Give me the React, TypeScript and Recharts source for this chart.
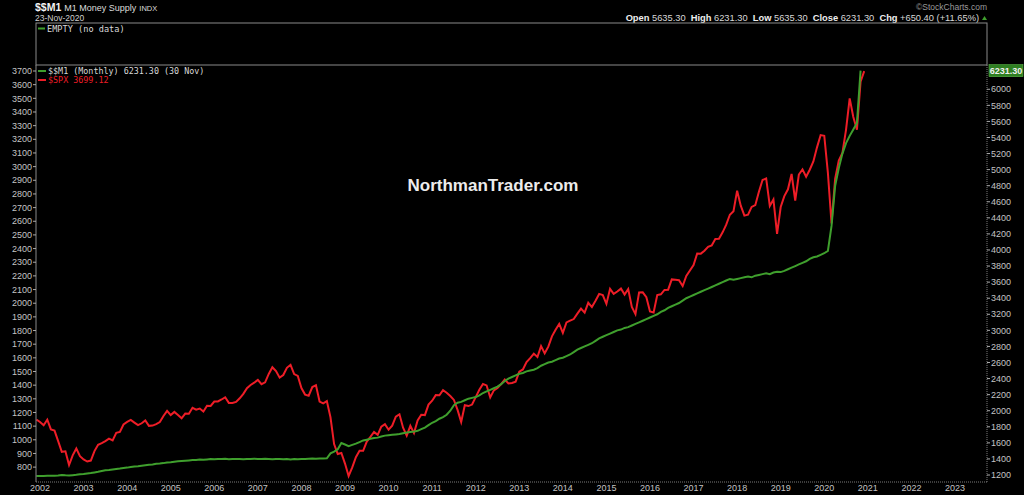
import { LineChart, Line, XAxis, YAxis, ReferenceLine } from 'recharts';

// monthly closes, Dec 2001 .. Dec 2020 (left axis)
const spx = [
  1148,
  1130, 1107, 1147, 1076, 1067, 990, 912, 916, 815, 886, 936, 880,
  856, 841, 848, 917, 964, 975, 990, 1008, 996, 1051, 1058, 1112,
  1131, 1145, 1126, 1107, 1121, 1141, 1102, 1104, 1115, 1130, 1174, 1212,
  1181, 1204, 1181, 1157, 1192, 1191, 1234, 1220, 1229, 1207, 1249, 1248,
  1280, 1281, 1295, 1311, 1270, 1270, 1277, 1304, 1336, 1378, 1401, 1418,
  1438, 1407, 1421, 1482, 1531, 1503, 1455, 1474, 1527, 1549, 1481, 1468,
  1379, 1331, 1323, 1386, 1400, 1280, 1267, 1283, 1165, 969, 896, 903,
  826, 735, 798, 873, 919, 919, 987, 1021, 1057, 1036, 1096, 1115,
  1074, 1104, 1169, 1187, 1089, 1031, 1102, 1049, 1141, 1183, 1181, 1258,
  1286, 1327, 1326, 1364, 1345, 1321, 1292, 1219, 1131, 1253, 1247, 1258,
  1312, 1366, 1408, 1398, 1310, 1362, 1379, 1407, 1441, 1412, 1416, 1426,
  1498, 1515, 1569, 1598, 1631, 1606, 1686, 1633, 1682, 1757, 1806, 1848,
  1783, 1859, 1872, 1884, 1924, 1960, 1931, 2003, 1972, 2018, 2068, 2059,
  1995, 2105, 2068, 2086, 2107, 2063, 2104, 1972, 1920, 2079, 2080, 2044,
  1940, 1932, 2060, 2065, 2097, 2099, 2174, 2171, 2168, 2126, 2199, 2239,
  2279, 2364, 2363, 2384, 2412, 2423, 2470, 2472, 2519, 2575, 2648, 2674,
  2824, 2714, 2641, 2648, 2705, 2718, 2816, 2902, 2914, 2712, 2760, 2507,
  2704, 2784, 2834, 2946, 2752, 2942, 2980, 2926, 2977, 3038, 3141, 3231,
  3226, 2954, 2585, 2912, 3044, 3100, 3271, 3500, 3363, 3270, 3622, 3699.12,
];

// M1 money supply, Dec 2001 .. Nov 2020 (right axis)
const m1 = [
  1188,
  1188, 1189, 1190, 1191, 1192, 1194, 1200, 1196, 1194, 1198, 1202, 1210,
  1214, 1220, 1224, 1232, 1240, 1250, 1258, 1262, 1268, 1274, 1280, 1288,
  1292, 1300, 1306, 1310, 1316, 1322, 1328, 1332, 1340, 1342, 1348, 1356,
  1360, 1366, 1370, 1374, 1378, 1382, 1386, 1388, 1392, 1390, 1394, 1398,
  1396, 1400, 1398, 1402, 1396, 1400, 1398, 1400, 1396, 1398, 1400, 1402,
  1400, 1398, 1402, 1400, 1396, 1398, 1400, 1396, 1398, 1394, 1398, 1396,
  1398, 1400, 1402, 1404, 1402, 1404, 1406, 1408, 1470, 1490, 1520, 1598,
  1580, 1560, 1575, 1590, 1610, 1630, 1640, 1650, 1660, 1665, 1680, 1690,
  1695, 1700, 1705, 1710, 1720, 1730, 1735, 1740, 1750, 1770, 1790, 1820,
  1850, 1870, 1900, 1920, 1950, 2000, 2070, 2100, 2110, 2130, 2150, 2160,
  2170, 2190, 2220, 2240, 2260, 2280, 2300, 2330, 2370, 2400, 2420, 2440,
  2460, 2470, 2490, 2500, 2510, 2530, 2560, 2580, 2600, 2610, 2630, 2650,
  2660, 2680, 2700, 2730, 2760, 2780, 2800, 2820, 2840, 2870, 2900, 2920,
  2940, 2960, 2980, 3000, 3010, 3030, 3040, 3060, 3080, 3100, 3120, 3140,
  3160, 3180, 3200, 3230, 3250, 3280, 3300, 3320, 3340, 3370, 3400, 3420,
  3440, 3460, 3480, 3500, 3520, 3540, 3560, 3580, 3600, 3620, 3640, 3630,
  3640, 3650, 3660, 3670, 3660, 3680, 3690, 3700, 3710, 3700, 3720, 3730,
  3725, 3740, 3760, 3780, 3800, 3820, 3840, 3860, 3890, 3910, 3920, 3940,
  3960, 3990, 4300, 4800, 5020, 5200, 5330, 5420, 5500, 5580.9, 6231.3,
];

const yearTicks = [
  2002, 2003, 2004, 2005, 2006, 2007, 2008, 2009, 2010, 2011, 2012,
  2013, 2014, 2015, 2016, 2017, 2018, 2019, 2020, 2021, 2022, 2023,
];
const leftTicks = [
  800, 900, 1000, 1100, 1200, 1300, 1400, 1500, 1600, 1700, 1800, 1900, 2000, 2100, 2200,
  2300, 2400, 2500, 2600, 2700, 2800, 2900, 3000, 3100, 3200, 3300, 3400, 3500, 3600, 3700,
];
const rightTicks = [
  1200, 1400, 1600, 1800, 2000, 2200, 2400, 2600, 2800, 3000, 3200, 3400, 3600,
  3800, 4000, 4200, 4400, 4600, 4800, 5000, 5200, 5400, 5600, 5800, 6000,
];

const START = 2001 + 11 / 12;
const data = spx.map((v, i) => ({ t: START + i / 12, spx: v, m1: m1[i] }));

const RED = '#ee1d27';
const GREEN = '#3f9f2d';
const FRAME = '#8a8a8a';
const SANS = '"Liberation Sans", Arial, sans-serif';
const MONO = '"DejaVu Sans Mono", monospace';
const tickStyle = { fill: '#c4c4c4', fontSize: 9, fontFamily: SANS };

function LastBox(props: any) {
  const vb = props.viewBox || {};
  const x = vb.x + vb.width + 2;
  const y = vb.y;
  return (
    <g>
      <rect x={x} y={y - 6} width={34} height={12} fill="#2f7f22" stroke="#5cb848" strokeWidth={0.6} />
      <text x={x + 17} y={y + 3.2} textAnchor="middle" fill="#f0f0f0" fontSize={9} fontWeight="bold" fontFamily={SANS}>
        6231.30
      </text>
    </g>
  );
}

export default function App() {
  return (
    <div style={{ position: 'absolute', left: 0, top: 0, width: 1024, height: 495, background: '#000', overflow: 'hidden' }}>
      <LineChart width={1024} height={495} data={data} margin={{ top: 65, right: 0, bottom: 0, left: 0 }}>
        <XAxis
          dataKey="t"
          type="number"
          domain={[2001.908, 2023.735]}
          ticks={yearTicks}
          interval={0}
          allowDataOverflow
          height={13}
          tickSize={2}
          tickMargin={1}
          tickLine={false}
          axisLine={{ stroke: '#7a7a7a', strokeDasharray: '1 1' }}
          tick={tickStyle}
        />
        <YAxis
          yAxisId="left"
          orientation="left"
          domain={[691, 3744]}
          ticks={leftTicks}
          interval={0}
          allowDataOverflow
          width={36}
          tickSize={3}
          tickMargin={1}
          axisLine={{ stroke: FRAME }}
          tickLine={{ stroke: '#aaa' }}
          tick={tickStyle}
        />
        <YAxis
          yAxisId="right"
          orientation="right"
          domain={[1113, 6302]}
          ticks={rightTicks}
          interval={0}
          allowDataOverflow
          width={37}
          tickSize={3}
          tickMargin={1}
          axisLine={{ stroke: '#7a7a7a', strokeDasharray: '1 1' }}
          tickLine={{ stroke: '#aaa' }}
          tick={tickStyle}
        />
        <Line yAxisId="left" dataKey="spx" stroke={RED} strokeWidth={2} dot={false} isAnimationActive={false} />
        <Line yAxisId="right" dataKey="m1" stroke={GREEN} strokeWidth={2} dot={false} isAnimationActive={false} />
        <ReferenceLine yAxisId="right" y={6231.3} stroke="none" label={<LastBox />} />
      </LineChart>

      <svg width={1024} height={495} style={{ position: 'absolute', left: 0, top: 0, pointerEvents: 'none' }}>
        {/* header */}
        <text x={35} y={10.5} fontFamily={SANS} fill="#f2f2f2">
          <tspan fontSize={10.5} fontWeight="bold">$$M1</tspan>
          <tspan fontSize={9} fill="#dcdcdc" dx={3}>M1 Money Supply</tspan>
          <tspan fontSize={7.5} fill="#dcdcdc" dx={3}>INDX</tspan>
        </text>
        <text x={35} y={20.5} fontFamily={SANS} fontSize={8.5} fill="#d0d0d0">23-Nov-2020</text>
        <text x={987} y={10} textAnchor="end" fontFamily={SANS} fontSize={8.5} fill="#9a9a9a">©StockCharts.com</text>
        <text x={979} y={20.5} textAnchor="end" fontFamily={SANS} fontSize={9.3} fill="#d8d8d8" xmlSpace="preserve">
          <tspan fontWeight="bold" fill="#eee">Open</tspan>
          <tspan>{' 5635.30  '}</tspan>
          <tspan fontWeight="bold" fill="#eee">High</tspan>
          <tspan>{' 6231.30  '}</tspan>
          <tspan fontWeight="bold" fill="#eee">Low</tspan>
          <tspan>{' 5635.30  '}</tspan>
          <tspan fontWeight="bold" fill="#eee">Close</tspan>
          <tspan>{' 6231.30  '}</tspan>
          <tspan fontWeight="bold" fill="#eee">Chg</tspan>
          <tspan>{' +650.40 (+11.65%)'}</tspan>
        </text>
        <polygon points="982,20 987,20 984.5,16" fill={GREEN} />

        {/* empty indicator panel */}
        <rect x={36} y={23} width={951} height={42} fill="none" stroke={FRAME} strokeWidth={1} />
        <line x1={38} y1={28.5} x2={45} y2={28.5} stroke={GREEN} strokeWidth={2} />
        <text x={47} y={31.5} fontFamily={MONO} fontSize={8.6} fill="#d8d8d8">EMPTY (no data)</text>

        {/* main legend */}
        <line x1={38} y1={71} x2={46} y2={71} stroke={GREEN} strokeWidth={2} />
        <text x={48} y={74} fontFamily={MONO} fontSize={8.4} fill="#d8d8d8">$$M1 (Monthly) 6231.30 (30 Nov)</text>
        <line x1={38} y1={80} x2={46} y2={80} stroke={RED} strokeWidth={2} />
        <text x={48} y={83} fontFamily={MONO} fontSize={8.4} fill={RED}>$SPX 3699.12</text>

        {/* watermark */}
        <text x={493} y={191} textAnchor="middle" fontFamily={SANS} fontWeight="bold" fontSize={17} fill="#ececec">
          NorthmanTrader.com
        </text>
      </svg>
    </div>
  );
}
